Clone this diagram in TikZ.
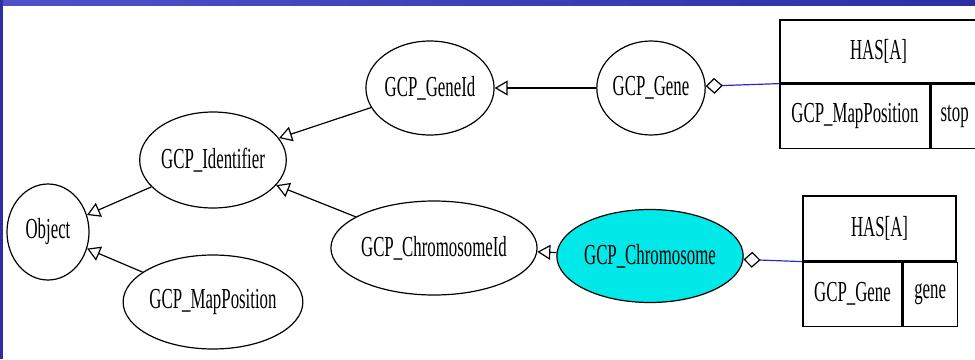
\documentclass[tikz,border=0pt]{standalone}
\usepackage{fontspec}
\setmainfont{Liberation Serif}
\usetikzlibrary{shapes.geometric,arrows.meta}
\definecolor{slideblue}{RGB}{45,45,165}
\definecolor{slidelight}{RGB}{80,80,200}
\definecolor{chromcyan}{RGB}{0,232,232}
\definecolor{linkblue}{RGB}{40,40,215}
\newcommand{\nar}[1]{\scalebox{0.58}[1]{#1}}
\begin{document}
\begin{tikzpicture}[x=1pt,y=-1pt,
  cls/.style={ellipse, draw, line width=1.2pt, inner sep=0pt, font=\fontsize{29}{30}\selectfont},
  cell/.style={rectangle, draw, line width=1.2pt, inner sep=0pt, font=\fontsize{29}{30}\selectfont},
  isa/.style={-{Triangle[open,length=13pt,width=15pt]}, line width=1.2pt},
  has/.style={{Diamond[open,length=17pt,width=16pt,color=black]}-, draw=linkblue, line width=1.2pt}]
\useasboundingbox (0,0) rectangle (975,359);
\clip (0,0) rectangle (975,359);
\fill[white] (0,0) rectangle (975,359);
% classes
\node[cls, minimum width=82, minimum height=96] (obj) at (48,232){\nar{Object}};
\node[cls, minimum width=136, minimum height=96] (ident) at (213,160){\nar{GCP\_Identifier}};
\node[cls, minimum width=160, minimum height=94] (mappos) at (213,302){\nar{GCP\_MapPosition}};
\node[cls, minimum width=126, minimum height=94] (geneid) at (430,88){\nar{GCP\_GeneId}};
\node[cls, minimum width=108, minimum height=94] (gene) at (651,88){\nar{GCP\_Gene}};
\node[cls, minimum width=194, minimum height=94] (chromid) at (434,248){\nar{GCP\_ChromosomeId}};
\node[cls, fill=chromcyan, minimum width=166, minimum height=93] (chrom) at (650,256){\nar{GCP\_Chromosome}};
% tables
\node[cell, minimum width=197, minimum height=63] (hasgene) at (878.5,51.5){\nar{HAS[A]}};
\node[cell, minimum width=150, minimum height=64, anchor=north west] (posattr) at (hasgene.south west){\nar{GCP\_MapPosition}};
\node[cell, minimum width=47, minimum height=64, anchor=north west] (stopattr) at (posattr.north east){\nar{stop}};
\node[cell, minimum width=153, minimum height=65] (haschrom) at (879.5,228.5){\nar{HAS[A]}};
\node[cell, minimum width=99, minimum height=64, anchor=north west] (geneattr) at (haschrom.south west){\nar{GCP\_Gene}};
\node[cell, minimum width=54, minimum height=64, anchor=north west] (nameattr) at (geneattr.north east){\nar{gene}};
% generalisation
\draw[isa] (ident) -- (obj);
\draw[isa] (mappos) -- (obj);
\draw[isa] (geneid) -- (ident);
\draw[isa] (chromid) -- (ident);
\draw[isa] (gene) -- (geneid);
\draw[isa] (chrom) -- (chromid);
% aggregation
\draw[has] (gene) -- (hasgene.south west);
\draw[has] (chrom) -- (haschrom.south west);
% slide border
\shade[left color=slidelight, right color=slideblue] (0,0) rectangle (975,5);
\fill[slideblue] (0,0) rectangle (3,359);
\end{tikzpicture}
\end{document}
